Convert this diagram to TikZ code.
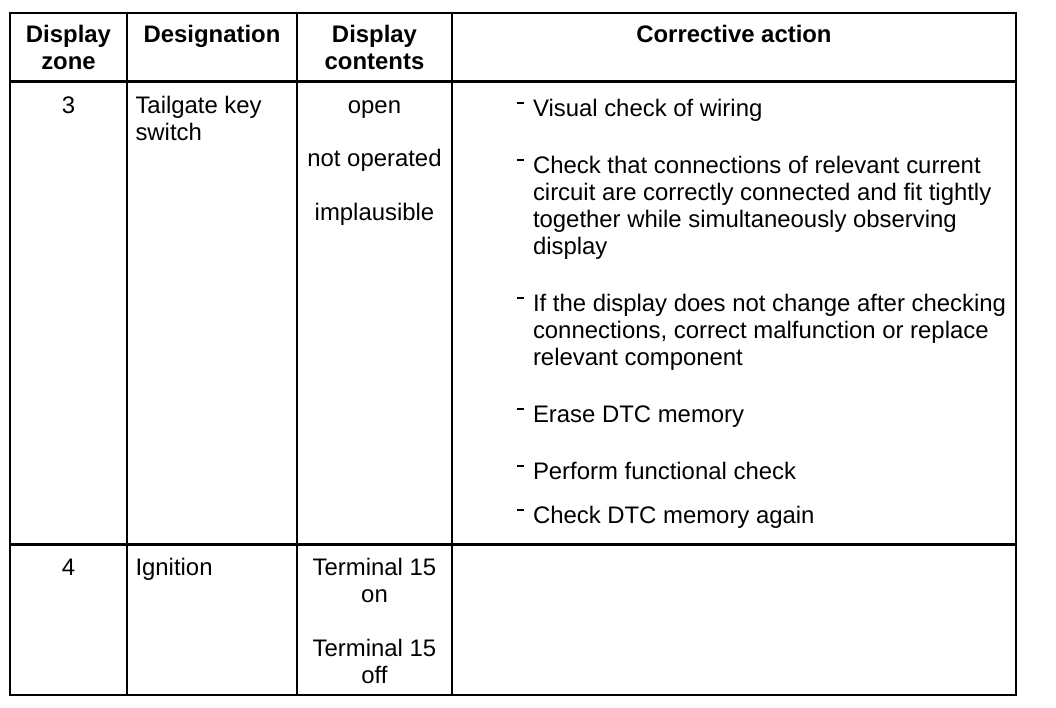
\documentclass[tikz,border=0pt]{standalone}
\usepackage{fontspec}
\setmainfont{Liberation Sans}
\newcommand\dsh{\llap{\rule[12.5pt]{7pt}{2.2pt}\hspace{9pt}}}
\begin{document}
\begin{tikzpicture}[x=1pt,y=-1pt,
  txt/.style={inner sep=0pt, outer sep=0pt, font=\fontsize{23.9}{27}\selectfont},
  ctr/.style={txt, anchor=base, align=center},
  lft/.style={txt, anchor=base west, align=left},
  hdr/.style={ctr, font=\fontsize{23.9}{26.5}\selectfont\bfseries},
  grid/.style={line width=2.4pt, line cap=rect},
  sep/.style={line width=3pt}]
\useasboundingbox (0,0) rectangle (1056,708);
% table frame
\coordinate (tl) at (10,13);
\coordinate (br) at (1016,695);
\coordinate (v1t) at (127,13); \coordinate (v1b) at (127,695);
\coordinate (v2t) at (297,13);   \coordinate (v2b) at (297,695);
\coordinate (v3t) at (452,13);   \coordinate (v3b) at (452,695);
\coordinate (h1l) at (10,82);    \coordinate (h1r) at (1016,82);
\coordinate (h2l) at (10,544);   \coordinate (h2r) at (1016,544);
\draw[grid] (tl) rectangle (br);
\draw[grid] (v1t) -- (v1b);
\draw[grid] (v2t) -- (v2b);
\draw[grid] (v3t) -- (v3b);
\draw[sep] (h1l) -- (h1r);
\draw[sep] (h2l) -- (h2r);
% header (base anchor = baseline of the last line)
\node[hdr] (hzone) at (68.5,69.5) {Display\\zone};
\node[hdr] (hdes) at (212,43) {Designation};
\node[hdr] (hcont) at (374.5,69.5) {Display\\contents};
\node[hdr] (hact) at (734,43) {Corrective action};
% row 1
\node[ctr] (z3) at (68.5,113.5) {3};
\node[lft] (d3) at (135.5,140.5) {Tailgate key\\switch};
\node[ctr] (c3a) at (374.5,113.5) {open};
\node[ctr] (c3b) at (374.5,167) {not operated};
\node[ctr] (c3c) at (374.5,221) {implausible};
\node[lft] (b1) at (533,116.5) {\dsh Visual check of wiring};
\node[lft] (b2) at (533,254.5) {\dsh Check that connections of relevant current\\circuit are correctly connected and fit tightly\\together while simultaneously observing\\display};
\node[lft] (b3) at (533,365.5) {\dsh If the display does not change after checking\\connections, correct malfunction or replace\\relevant component};
\node[lft] (b4) at (533,422.5) {\dsh Erase DTC memory};
\node[lft] (b5) at (533,479.5) {\dsh Perform functional check};
\node[lft] (b6) at (533,523.5) {\dsh Check DTC memory again};
% row 2
\node[ctr] (z4) at (68.5,575) {4};
\node[lft] (d4) at (135.5,575) {Ignition};
\node[ctr] (c4a) at (374.5,602) {Terminal 15\\on};
\node[ctr] (c4b) at (374.5,683) {Terminal 15\\off};
\end{tikzpicture}
\end{document}
